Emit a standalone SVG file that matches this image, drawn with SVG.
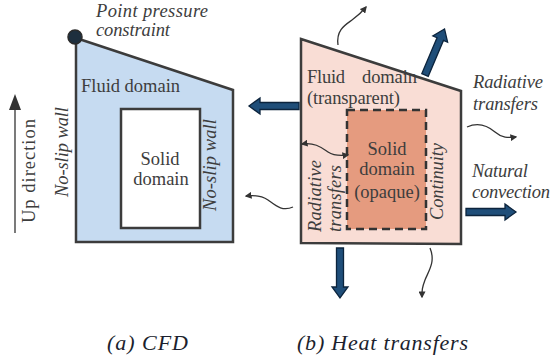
<svg xmlns="http://www.w3.org/2000/svg" xmlns:xlink="http://www.w3.org/1999/xlink" width="551" height="360" viewBox="0 0 551 360">
<style>
  .outline { stroke: #3c3c3c; stroke-width: 2.5; stroke-linejoin: miter; }
  .thin { fill: none; stroke: #333; stroke-width: 1.3; }
  .block { fill: #1f4e79; stroke: #0c243d; stroke-width: 1.3; stroke-linejoin: miter; }
</style>
<defs>
  <marker id="ah" viewBox="0 0 10 10" refX="8" refY="5" markerWidth="7" markerHeight="7" orient="auto-start-reverse" markerUnits="userSpaceOnUse">
    <path d="M0,0 L10,5 L0,10 Z" fill="#333"/>
  </marker>
  <path id="barrow" d="M0,-3.5 L39,-3.5 L39,-8 L50,0 L39,8 L39,3.5 L0,3.5 Z"/>
</defs>

<g id="cfd-panel">
  <g id="fluid-domain-cfd">
    <polygon points="76,38 233,90 233,242 76,242" fill="#c6dbf1" class="outline"/>
    <text font-family="Liberation Serif" font-size="18.5" fill="#3d3d3d" x="81" y="92" textLength="99" lengthAdjust="spacing">Fluid domain</text>
  </g>
  <g id="solid-domain-cfd">
    <rect x="121" y="109" width="79" height="119" fill="#ffffff" class="outline"/>
    <text font-family="Liberation Serif" font-size="18.5" fill="#3d3d3d" x="160" y="165" text-anchor="middle">Solid</text>
    <text font-family="Liberation Serif" font-size="18.5" fill="#3d3d3d" x="161" y="185" text-anchor="middle">domain</text>
  </g>
  <g id="pressure-point">
    <circle cx="75" cy="37" r="7" fill="#1e2f3e" stroke="#2a2a2a" stroke-width="1.5"/>
    <text font-family="Liberation Serif" font-size="18.5" font-style="italic" fill="#3d3d3d" x="96" y="17" textLength="112" lengthAdjust="spacing">Point  pressure</text>
    <text font-family="Liberation Serif" font-size="18.5" font-style="italic" fill="#3d3d3d" x="96" y="36" textLength="74" lengthAdjust="spacing">constraint</text>
  </g>
  <text font-family="Liberation Serif" font-size="18.5" font-style="italic" fill="#3d3d3d" transform="translate(68,152) rotate(-90)" text-anchor="middle" textLength="90" lengthAdjust="spacing">No-slip wall</text>
  <text font-family="Liberation Serif" font-size="18.5" font-style="italic" fill="#3d3d3d" transform="translate(216,165) rotate(-90)" text-anchor="middle" textLength="92" lengthAdjust="spacing">No-slip wall</text>
  <g id="up-direction">
    <line x1="15" y1="233" x2="15" y2="108" stroke="#333" stroke-width="1.3"/>
    <polygon points="15,94 9,110 21,110" fill="#333"/>
    <text font-family="Liberation Serif" font-size="18.5" fill="#3d3d3d" transform="translate(35,171) rotate(-90)" text-anchor="middle" textLength="104" lengthAdjust="spacing">Up direction</text>
  </g>
</g>

<g id="heat-panel">
  <g id="fluid-domain-heat">
    <polygon points="301,39 461,91 461,244 301,243" fill="#f9ddd5"/>
    <text font-family="Liberation Serif" font-size="18.5" fill="#3d3d3d" x="307" y="83" textLength="38" lengthAdjust="spacing">Fluid</text>
    <text font-family="Liberation Serif" font-size="18.5" fill="#3d3d3d" x="362" y="83" textLength="55" lengthAdjust="spacing">domain</text>
    <text font-family="Liberation Serif" font-size="18.5" fill="#3d3d3d" x="307" y="104" textLength="93" lengthAdjust="spacing">(transparent)</text>
    <polygon points="301,39 461,91 461,244 301,243" fill="none" class="outline"/>
  </g>
  <g id="solid-domain-heat">
    <rect x="347" y="110" width="79" height="119" fill="#e59b7f" stroke="#333" stroke-width="2.5" stroke-dasharray="8,5"/>
    <text font-family="Liberation Serif" font-size="18.5" fill="#3d3d3d" x="387" y="155" text-anchor="middle">Solid</text>
    <text font-family="Liberation Serif" font-size="18.5" fill="#3d3d3d" x="387" y="175" text-anchor="middle">domain</text>
    <text font-family="Liberation Serif" font-size="18.5" fill="#3d3d3d" x="387" y="198" text-anchor="middle">(opaque)</text>
  </g>
  <text font-family="Liberation Serif" font-size="18.5" font-style="italic" fill="#3d3d3d" transform="translate(321,232) rotate(-90)" textLength="72" lengthAdjust="spacing">Radiative</text>
  <text font-family="Liberation Serif" font-size="18.5" font-style="italic" fill="#3d3d3d" transform="translate(341,232) rotate(-90)" textLength="67" lengthAdjust="spacing">transfers</text>
  <text font-family="Liberation Serif" font-size="18.5" font-style="italic" fill="#3d3d3d" transform="translate(443,220) rotate(-90)" textLength="77" lengthAdjust="spacing">Continuity</text>
  <text font-family="Liberation Serif" font-size="18.5" font-style="italic" fill="#3d3d3d" x="473" y="88" textLength="70" lengthAdjust="spacing">Radiative</text>
  <text font-family="Liberation Serif" font-size="18.5" font-style="italic" fill="#3d3d3d" x="473" y="110" textLength="65" lengthAdjust="spacing">transfers</text>
  <text font-family="Liberation Serif" font-size="18.5" font-style="italic" fill="#3d3d3d" x="472" y="177" textLength="56" lengthAdjust="spacing">Natural</text>
  <text font-family="Liberation Serif" font-size="18.5" font-style="italic" fill="#3d3d3d" x="472" y="198" textLength="78" lengthAdjust="spacing">convection</text>
</g>

<g id="connectors">
  <use xlink:href="#barrow" class="block" transform="translate(299,106) rotate(180)"/>
  <use xlink:href="#barrow" class="block" transform="translate(425,75) rotate(-67)"/>
  <use xlink:href="#barrow" class="block" transform="translate(466,212)"/>
  <use xlink:href="#barrow" class="block" transform="translate(340,248) rotate(90)"/>
  <path class="thin" d="M338,45 C336,30 345,25 352,20 S362,12 366,7" marker-end="url(#ah)"/>
  <path class="thin" d="M467,127 C478,122 488,126 495,132 S508,138 516,137" marker-end="url(#ah)"/>
  <path class="thin" d="M293,207 C282,212 275,205 268,200 S254,195 246,196" marker-end="url(#ah)"/>
  <path class="thin" d="M430,248 C436,262 428,272 425,280 S422,290 422,297" marker-end="url(#ah)"/>
  <path class="thin" d="M302,144 C315,142 322,148 328,152 S340,156 348,155" marker-start="url(#ah)" marker-end="url(#ah)"/>
</g>

<g id="captions">
  <text font-family="Liberation Serif" font-size="22" font-style="italic" fill="#1c1f2e" x="107" y="350" textLength="81" lengthAdjust="spacing">(a) CFD</text>
  <text font-family="Liberation Serif" font-size="22" font-style="italic" fill="#1c1f2e" x="297" y="350" textLength="171" lengthAdjust="spacing">(b) Heat transfers</text>
</g>
</svg>
